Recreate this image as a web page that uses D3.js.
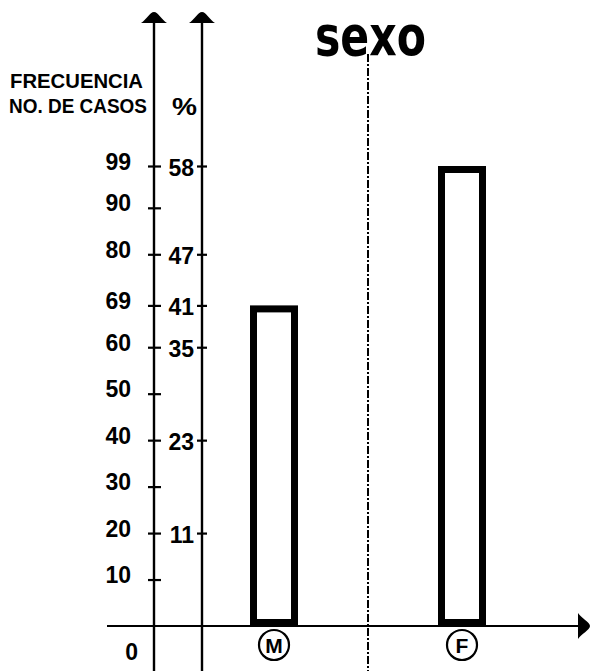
<!DOCTYPE html>
<html><head><meta charset="utf-8">
<script src="https://cdn.jsdelivr.net/npm/d3@7"></script>
<style>
html,body{margin:0;padding:0;background:#fff;}
</style></head>
<body>
<svg id="c" width="591" height="671"></svg>
<script>
// ---- data ----
const categories = ["M", "F"];
const frequencies = [69, 99];
const freqTicks = [10, 20, 30, 40, 50, 60, 69, 80, 90, 99];
const pctLabels = [11, 23, 35, 41, 47, 58];
const pctAtFreq = [20, 40, 60, 69, 80, 99];
const title = "sexo";
const yLabel1 = "FRECUENCIA";
const yLabel2 = "NO. DE CASOS";
const pctLabel = "%";

const FONT = "'Liberation Sans', Arial, Helvetica, sans-serif";
const svg = d3.select("#c");
const y = d3.scaleLinear().domain([0, 99]).range([626, 166]);
const x = d3.scalePoint().domain(categories).range([274, 462]);
const axisX1 = 154, axisX2 = 202, base = y(0);

function styleText(sel, size) {
  return sel.style("font-family", FONT).style("font-weight", "bold")
    .style("font-size", size + "px").style("fill", "#000");
}

// vertical axes lines
[axisX1, axisX2].forEach(ax => {
  svg.append("line").attr("x1", ax).attr("x2", ax).attr("y1", 18).attr("y2", 671)
    .attr("stroke", "#000").attr("stroke-width", 2.4);
  svg.append("path")
    .attr("transform", `translate(${ax},${23})`)
    .attr("d", "M-13,0 C-8,-3 -4,-11 0,-11 C4,-11 8,-3 13,0 Z")
    .attr("fill", "#000");
});

// frequency axis
const gL = svg.append("g").attr("transform", `translate(${axisX1},0)`)
  .call(d3.axisLeft(y).tickValues(freqTicks).tickSizeInner(6).tickSizeOuter(0).tickPadding(0));
gL.select(".domain").remove();
gL.selectAll(".tick line").attr("x1", -6).attr("x2", 7).attr("stroke", "#000").attr("stroke-width", 2.2);
styleText(gL.selectAll(".tick text").attr("x", -23).attr("dy", null).attr("y", 3)
  .attr("text-anchor", "end"), 23);

// zero label
styleText(svg.append("text").attr("x", 138).attr("y", 660).attr("text-anchor", "end").text("0"), 23);

// percent axis
const pctScale = d3.scaleOrdinal().domain(pctLabels).range(pctAtFreq.map(v => y(v)));
const gR = svg.append("g").attr("transform", `translate(${axisX2},0)`)
  .call(d3.axisLeft(pctScale).tickValues(pctLabels).tickSizeInner(5).tickSizeOuter(0).tickPadding(0));
gR.select(".domain").remove();
gR.selectAll(".tick line").attr("x1", -5).attr("x2", 5).attr("stroke", "#000").attr("stroke-width", 2.2);
styleText(gR.selectAll(".tick text").attr("x", -8).attr("dy", null).attr("y", 9)
  .attr("text-anchor", "end"), 23);

// axis labels
styleText(svg.append("text").attr("x", 10).attr("y", 88)
  .attr("textLength", 133).attr("lengthAdjust", "spacingAndGlyphs").text(yLabel1), 21);
styleText(svg.append("text").attr("x", 9).attr("y", 113)
  .attr("textLength", 138).attr("lengthAdjust", "spacingAndGlyphs").text(yLabel2), 21);
styleText(svg.append("text").attr("x", 172).attr("y", 115)
  .attr("textLength", 25).attr("lengthAdjust", "spacingAndGlyphs").text(pctLabel), 24);

// title
styleText(svg.append("text").attr("x", 315).attr("y", 55)
  .attr("textLength", 111).attr("lengthAdjust", "spacingAndGlyphs").text(title), 56)
  .style("font-family", "'DejaVu Sans', sans-serif");

// divider (midpoint between categories)
const midX = (x(categories[0]) + x(categories[1])) / 2;
svg.append("line").attr("x1", midX).attr("x2", midX).attr("y1", 54).attr("y2", 671)
  .attr("stroke", "#000").attr("stroke-width", 2).attr("stroke-dasharray", "8,2,2,2");

// baseline
svg.append("line").attr("x1", 107).attr("x2", 582).attr("y1", base).attr("y2", base)
  .attr("stroke", "#000").attr("stroke-width", 2.2);
svg.append("path").attr("transform", `translate(578,${base})`)
  .attr("d", "M0,-13 C3,-8 12,-4 12,0 C12,4 3,8 0,13 Z").attr("fill", "#000");

// bars
const bw = 48, sw = 7;
svg.selectAll("rect.bar").data(categories).enter().append("rect")
  .attr("class", "bar")
  .attr("x", d => x(d) - bw / 2 + sw / 2)
  .attr("width", bw - sw)
  .attr("y", (d, i) => y(frequencies[i]) + sw / 2)
  .attr("height", (d, i) => base - y(frequencies[i]) - sw)
  .attr("fill", "#fff").attr("stroke", "#000").attr("stroke-width", sw);

// circled category labels
const cg = svg.selectAll("g.cat").data(categories).enter().append("g")
  .attr("transform", d => `translate(${x(d)},645)`);
cg.append("circle").attr("r", 15).attr("fill", "#fff").attr("stroke", "#000").attr("stroke-width", 2.2);
styleText(cg.append("text").attr("text-anchor", "middle").attr("y", 8).text(d => d), 21);
</script>
</body></html>
